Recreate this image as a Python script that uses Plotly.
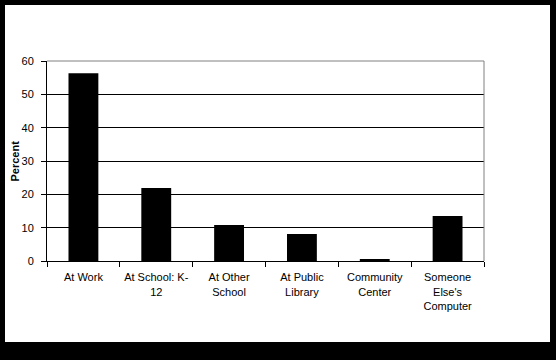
import plotly.graph_objects as go

categories = ["At Work", "At School: K-<br>12", "At Other<br>School", "At Public<br>Library",
              "Community<br>Center", "Someone<br>Else's<br>Computer"]
percent = [56.3, 21.9, 10.8, 8.1, 0.6, 13.5]
y_ticks = [0, 10, 20, 30, 40, 50, 60]

FONT = "Liberation Sans, Arial, sans-serif"

fig = go.Figure(go.Bar(x=categories, y=percent, marker=dict(color="black", line=dict(width=0)),
                       hoverinfo="skip"))

L, R, T, B = 47, 72, 61, 99
W, H = 556, 360
pw, ph = W - L - R, H - T - B

fig.update_layout(
    width=W, height=H,
    margin=dict(l=L, r=R, t=T, b=B, pad=0, autoexpand=False),
    paper_bgcolor="black",
    plot_bgcolor="white",
    bargap=0.59,
    showlegend=False,
    font=dict(family=FONT, size=11, color="black"),
    xaxis=dict(
        showline=True, linecolor="black", linewidth=1, automargin=False,
        ticks="outside", tickson="boundaries", ticklen=5, tickcolor="black",
        ticklabelstandoff=6,
        showgrid=False, tickfont=dict(size=11), tickangle=0, fixedrange=True,
    ),
    yaxis=dict(
        range=[0, 60], tickvals=y_ticks, showline=True, linecolor="black", linewidth=1,
        ticks="outside", ticklen=5, tickcolor="black", automargin=False,
        ticklabelstandoff=5,
        showgrid=True, gridcolor="black", gridwidth=1, zeroline=False,
        tickfont=dict(size=11), fixedrange=True,
    ),
    shapes=[
        dict(type="rect", xref="paper", yref="paper",
             x0=(5 - L) / pw, x1=(550 - L) / pw,
             y0=(H - B - 342) / ph, y1=(H - B - 5) / ph,
             fillcolor="white", line=dict(width=0), layer="below"),
        dict(type="line", xref="paper", yref="paper", x0=0, x1=1, y0=1, y1=1,
             line=dict(color="#808080", width=1)),
        dict(type="line", xref="paper", yref="paper", x0=1, x1=1, y0=0, y1=1,
             line=dict(color="#808080", width=1)),
    ],
    annotations=[
        dict(text="<b>Percent</b>", xref="paper", yref="paper",
             x=(14.5 - L) / pw, y=0.5, xanchor="center", yanchor="middle",
             textangle=-90, showarrow=False, font=dict(size=11, color="black")),
    ],
)

fig.write_html("out.html", config={"displayModeBar": False},
               post_script="document.body.style.margin='0';")
